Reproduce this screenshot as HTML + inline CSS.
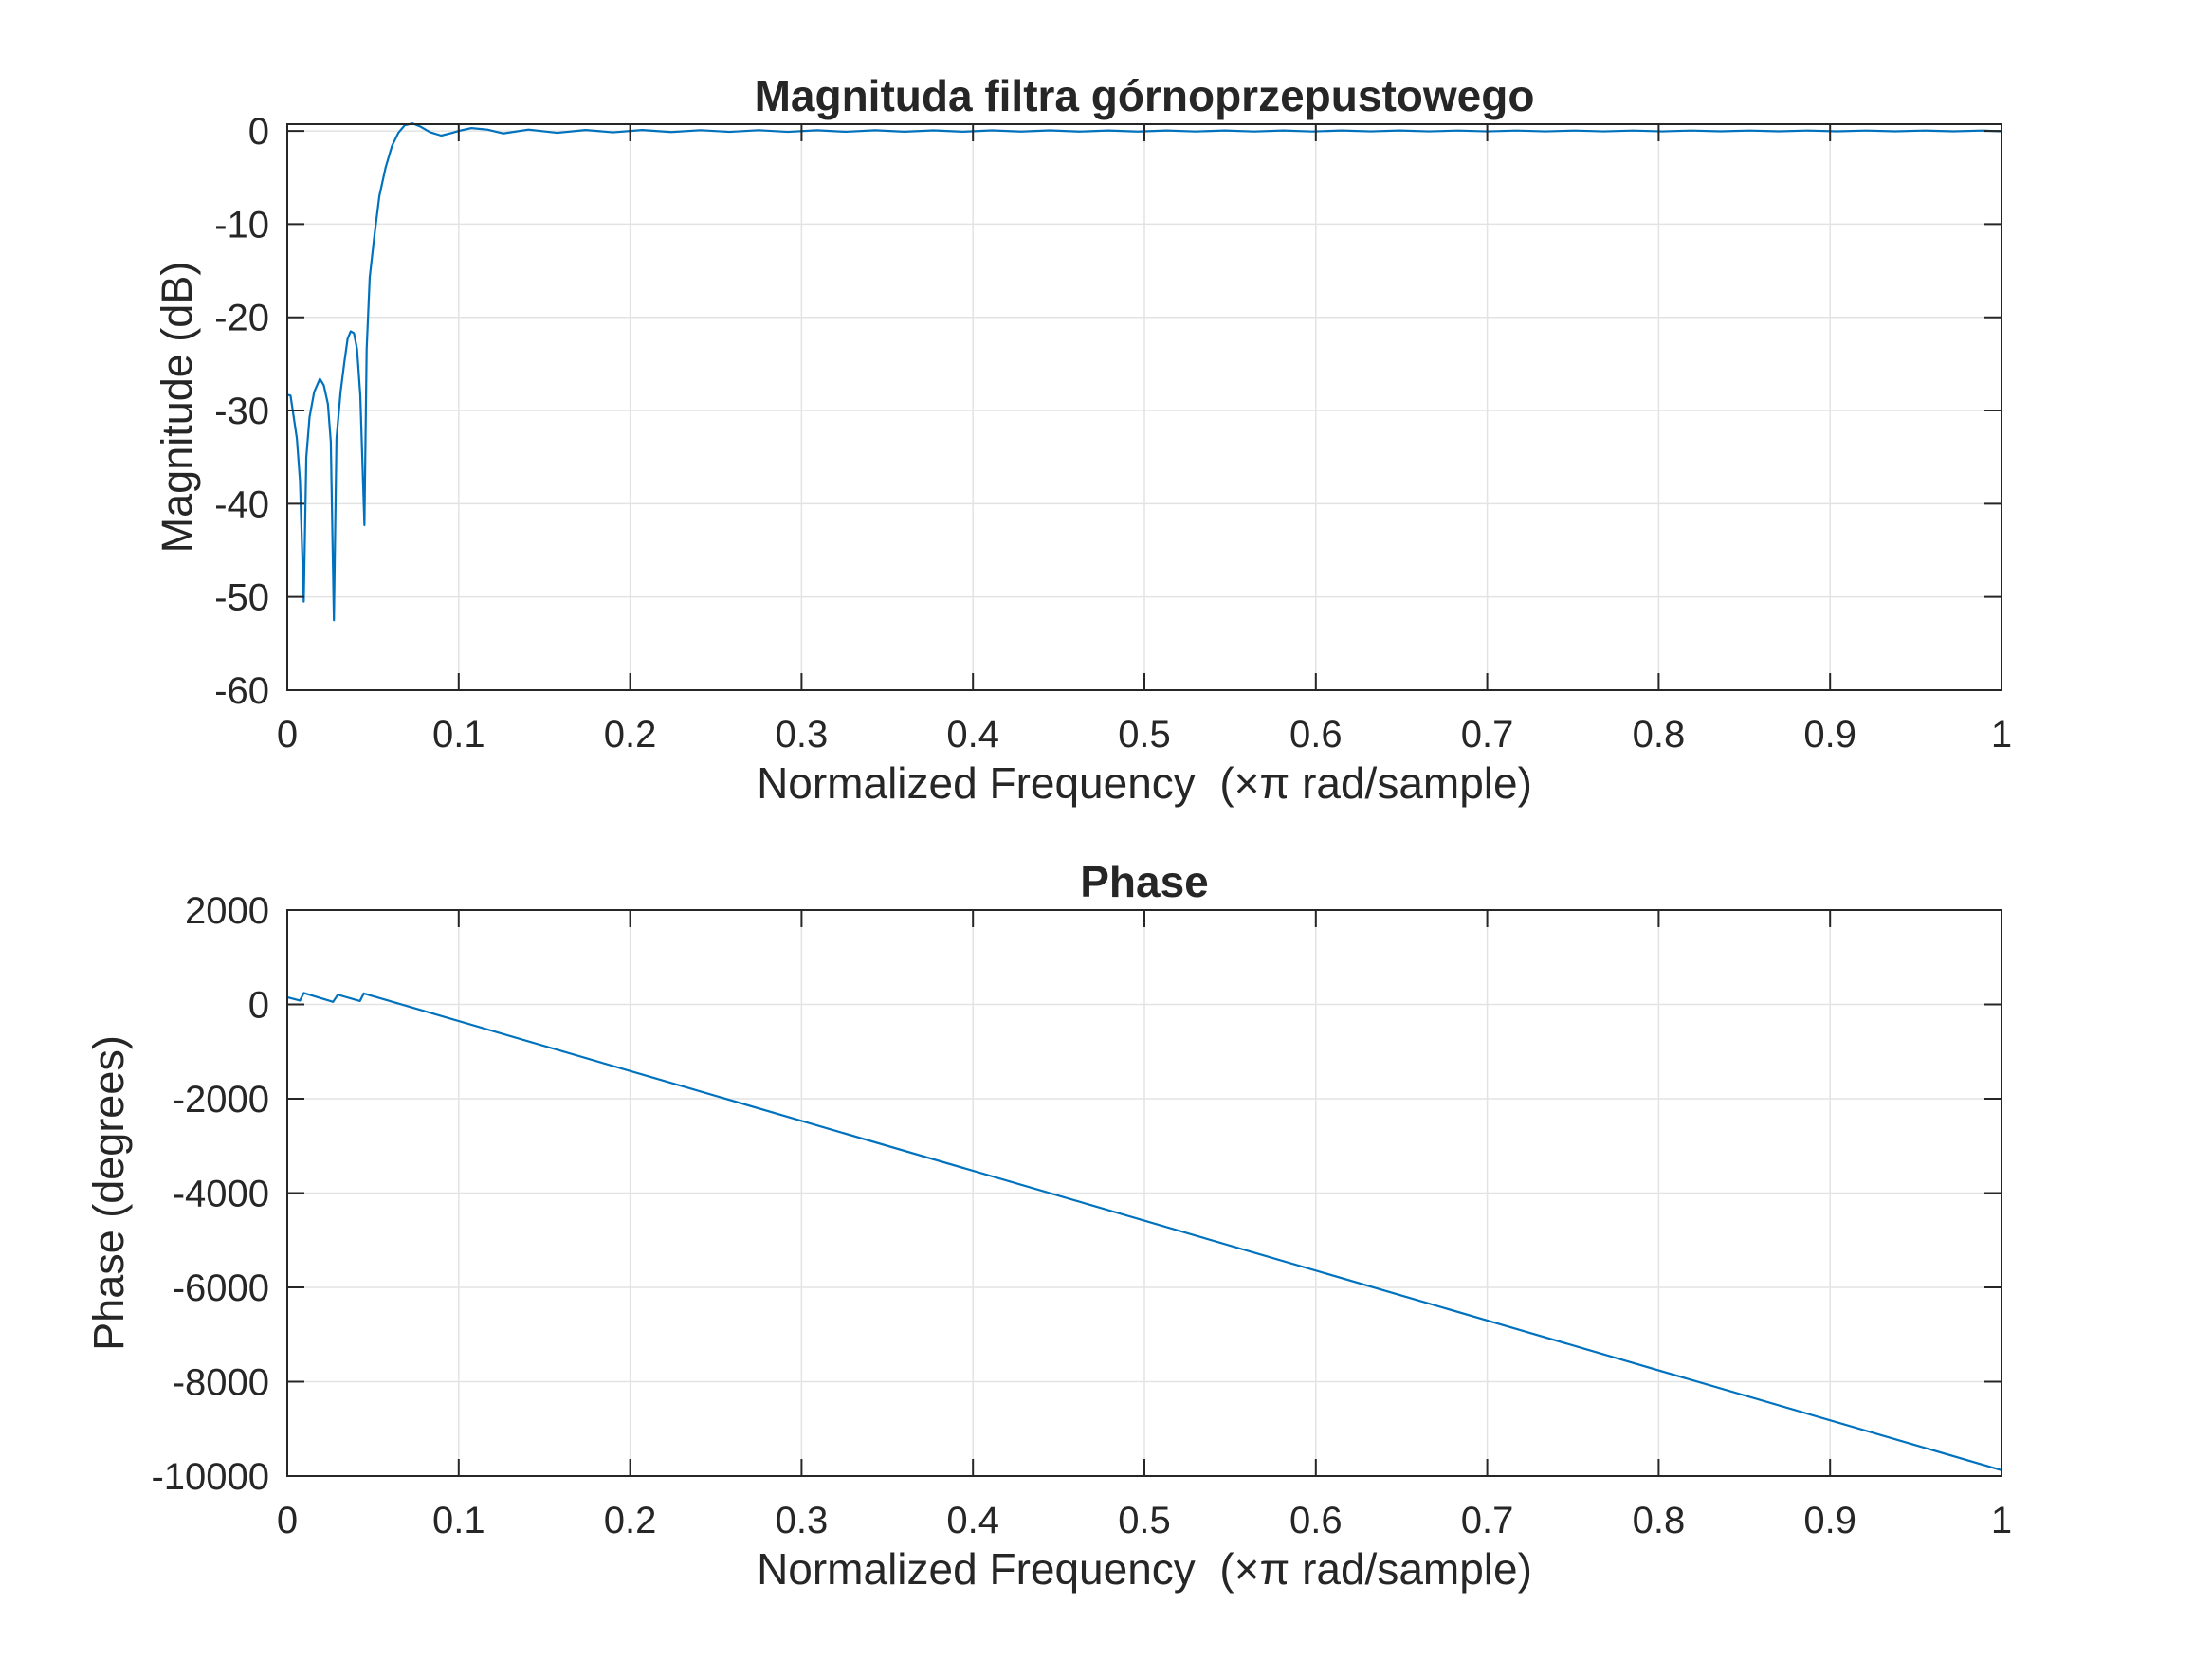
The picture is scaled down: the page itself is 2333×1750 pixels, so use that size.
<!DOCTYPE html>
<html><head><meta charset="utf-8"><style>
html,body{margin:0;padding:0;background:#fff;}
svg{display:block;}
text{font-family:"Liberation Sans",Arial,sans-serif;fill:#262626;}
</style></head><body>
<svg id="fig" width="2333" height="1750" viewBox="0 0 2333 1750" xmlns="http://www.w3.org/2000/svg">
<rect width="2333" height="1750" fill="#fff"/>
</svg>
<script>
// ---- data ----
const xTicks = [0,0.1,0.2,0.3,0.4,0.5,0.6,0.7,0.8,0.9,1];
const xTickLabels = ["0","0.1","0.2","0.3","0.4","0.5","0.6","0.7","0.8","0.9","1"];
const magTicks = [0,-10,-20,-30,-40,-50,-60];
const magTickLabels = ["0","-10","-20","-30","-40","-50","-60"];
const phaseTicks = [2000,0,-2000,-4000,-6000,-8000,-10000];
const phaseTickLabels = ["2000","0","-2000","-4000","-6000","-8000","-10000"];
const magFreq = [0,0.0019,0.0056,0.0074,0.0096,0.0111,0.013,0.0157,0.019,0.0213,0.0237,0.0254,0.0272,0.0287,0.0311,0.0333,0.0352,0.037,0.0389,0.0407,0.0426,0.045,0.0463,0.0481,0.0509,0.0537,0.0574,0.0611,0.0648,0.0685,0.0731,0.0778,0.0833,0.0898,0.0963,0.1,0.1074,0.1167,0.1259,0.1407,0.1574,0.174,0.19,0.207,0.224,0.241,0.258,0.275,0.292,0.309,0.326,0.343,0.36,0.377,0.394,0.411,0.428,0.445,0.462,0.479,0.496,0.513,0.53,0.547,0.564,0.581,0.598,0.615,0.632,0.649,0.666,0.683,0.7,0.717,0.734,0.751,0.768,0.785,0.802,0.819,0.836,0.853,0.87,0.887,0.904,0.921,0.938,0.955,0.972,0.989,1];
const magDb = [-28.3,-28.4,-33,-37.5,-50.5,-35,-30.7,-28,-26.6,-27.3,-29.3,-33.4,-52.5,-33,-28,-24.8,-22.3,-21.5,-21.7,-23.4,-28.4,-42.3,-23.4,-15.7,-11.1,-7,-3.9,-1.6,-0.2,0.6,0.8,0.45,-0.14,-0.5,-0.2,0,0.3,0.14,-0.27,0.14,-0.2,0.1,-0.15,0.1,-0.12,0.08,-0.1,0.08,-0.1,0.07,-0.09,0.07,-0.08,0.06,-0.08,0.06,-0.07,0.06,-0.07,0.05,-0.07,0.05,-0.06,0.05,-0.06,0.05,-0.06,0.05,-0.05,0.05,-0.05,0.04,-0.05,0.04,-0.05,0.04,-0.05,0.04,-0.05,0.04,-0.04,0.04,-0.04,0.04,-0.04,0.04,-0.04,0.04,-0.04,0.04,-0.04];
const phaseFreq = [0,0.0074,0.0096,0.0267,0.0295,0.0424,0.0446,1];
const phaseDeg = [152,81,242,54,206,72,233,-9876];

const NS="http://www.w3.org/2000/svg";
const svg=document.getElementById('fig');
function mk(tag,attrs,parent){const e=document.createElementNS(NS,tag);for(const k in attrs)e.setAttribute(k,attrs[k]);(parent||svg).appendChild(e);return e;}

const L=303,R=2111;
function xs(f){return L+(f-0)/(1-0)*(R-L);}

function drawAxes(cfg){
  const g=mk('g',{});
  
  
  const ys=v=>cfg.top+(cfg.ymax-v)/(cfg.ymax-cfg.ymin)*(cfg.bottom-cfg.top);
  xTicks.forEach(t=>{if(t>0&&t<1){const l=mk('line',{x1:xs(t),x2:xs(t),y1:cfg.top,y2:cfg.bottom,stroke:'#e3e3e3','stroke-width':1.5},g);
    
    }});
  cfg.yticks.forEach(t=>{if(t<cfg.ymax&&t>cfg.ymin){const l=mk('line',{x1:L,x2:R,y1:ys(t),y2:ys(t),stroke:'#e3e3e3','stroke-width':1.5},g);
    
    }});
  let d='';
  cfg.xv.forEach((f,i)=>{d+=(i?'L':'M')+xs(f).toFixed(2)+' '+ys(cfg.yv[i]).toFixed(2);});
  const p=mk('path',{d:d,fill:'none',stroke:'#0072BD','stroke-width':2.2,'stroke-linejoin':'round'},g);
  
  
  const b=mk('rect',{x:L,y:cfg.top,width:R-L,height:cfg.bottom-cfg.top,fill:'none',stroke:'#262626','stroke-width':2},g);
  
  
  xTicks.forEach((t,i)=>{
    mk('line',{x1:xs(t),x2:xs(t),y1:cfg.bottom,y2:cfg.bottom-18,stroke:'#262626','stroke-width':2},g);
    mk('line',{x1:xs(t),x2:xs(t),y1:cfg.top,y2:cfg.top+18,stroke:'#262626','stroke-width':2},g);
    const tx=mk('text',{x:xs(t),y:cfg.bottom+60,'font-size':40,'text-anchor':'middle'},g);
    tx.textContent=xTickLabels[i];
    
    
  });
  cfg.yticks.forEach((t,i)=>{
    mk('line',{x1:L,x2:L+18,y1:ys(t),y2:ys(t),stroke:'#262626','stroke-width':2},g);
    mk('line',{x1:R,x2:R-18,y1:ys(t),y2:ys(t),stroke:'#262626','stroke-width':2},g);
    const tx=mk('text',{x:284,y:ys(t)+14,'font-size':40,'text-anchor':'end'},g);
    tx.textContent=cfg.ylabels[i];
    
    
  });
  const ti=mk('text',{x:(L+R)/2,y:cfg.top-14,'font-size':46,'font-weight':'bold','text-anchor':'middle',fill:'#000'},g);
  ti.textContent=cfg.title;
  
  
  const xl=mk('text',{x:(L+R)/2,y:cfg.bottom+114,'font-size':46,'text-anchor':'middle'},g);
  xl.textContent='Normalized Frequency\u00A0\u00A0(\u00D7\u03C0 rad/sample)';
  
  
  const cy=(cfg.top+cfg.bottom)/2;
  const yl=mk('text',{x:cfg.ylx,y:cy,'font-size':45,'text-anchor':'middle',transform:'rotate(-90 '+cfg.ylx+' '+cy+')'},g);
  yl.textContent=cfg.ylabel;
  
  
}

drawAxes({name:'magnitude-plot',top:131,bottom:728,ymin:-60,ymax:0.72,yticks:magTicks,ylabels:magTickLabels,xv:magFreq,yv:magDb,title:'Magnituda filtra górnoprzepustowego',ylabel:'Magnitude (dB)',ylx:202});
drawAxes({name:'phase-plot',top:960,bottom:1557,ymin:-10000,ymax:2000,yticks:phaseTicks,ylabels:phaseTickLabels,xv:phaseFreq,yv:phaseDeg,title:'Phase',ylabel:'Phase (degrees)',ylx:130});
</script>
</body></html>
